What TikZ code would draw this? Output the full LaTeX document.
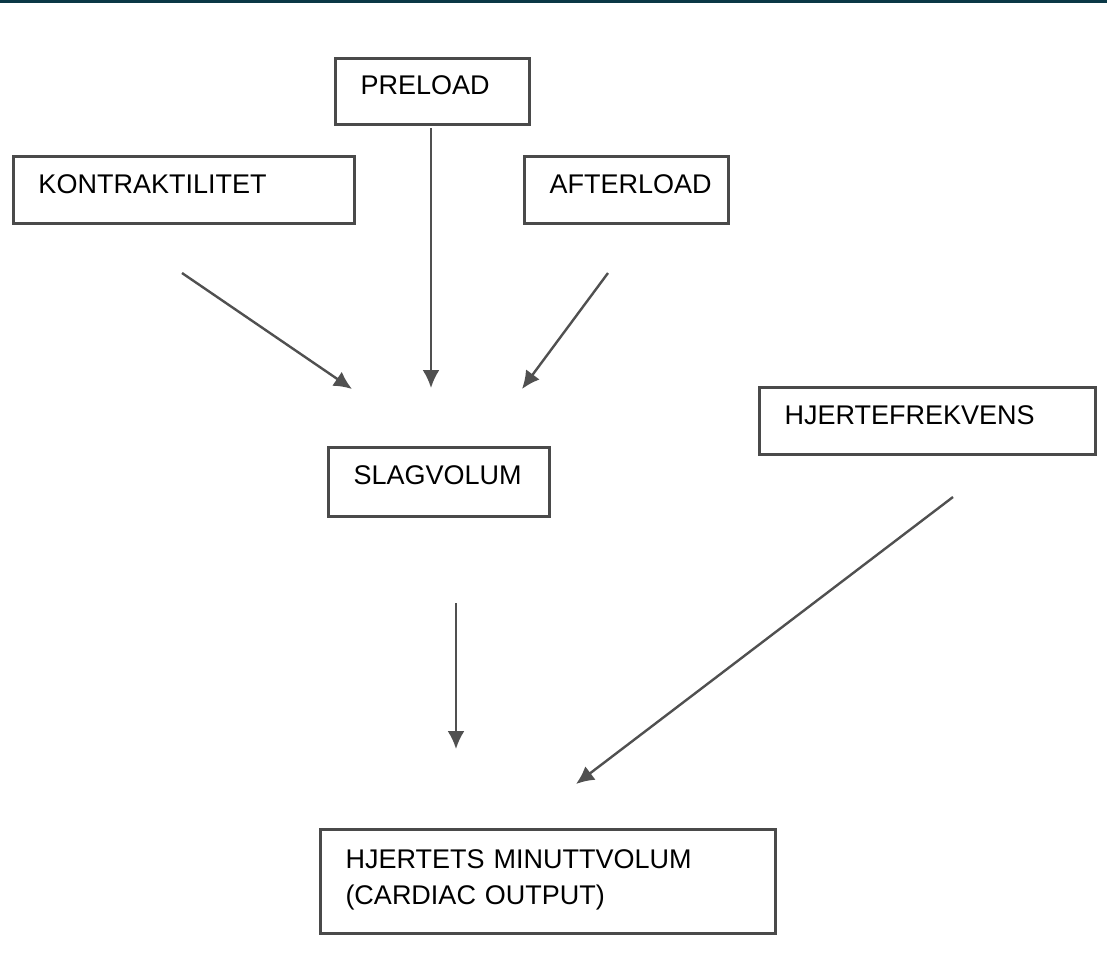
\documentclass[tikz,border=0pt]{standalone}
\usepackage{fontspec}
\setmainfont{Liberation Sans}
\usepackage{tikz}
\usetikzlibrary{arrows.meta,calc,positioning}
\definecolor{topbar}{HTML}{0A3846}
\definecolor{boxline}{HTML}{4A4A4A}
\definecolor{arrline}{HTML}{505050}
\tikzstyle{box}=[draw=boxline,line width=1.5pt,anchor=north west,inner xsep=12.5pt,inner ysep=0pt,align=left,text height=18.5pt,text depth=15pt,font=\fontsize{13.5}{18}\selectfont]
\tikzstyle{arr}=[draw=arrline,line width=1.2pt]

\begin{document}
\begin{tikzpicture}[
            x=0.5pt,y=-0.5pt,
            >={Latex[length=9pt,width=8.5pt]}
        ]
        \useasboundingbox (0,0) rectangle (1107,960);
        \fill[topbar] (0,0) rectangle (1107,3);
        % boxes
        \node [box,text width=72pt,text height=18pt] (pre) at (334,57) {PRELOAD};
        \node [box,text width=145.5pt] (kon) at (12,155) {KONTRAKTILITET};
        \node [box,text width=77pt] (aft) at (523,155) {AFTERLOAD};
        \node [box,text width=85.5pt,text depth=16pt] (sv) at (327,446) {SLAGVOLUM};
        \node [box,text width=143pt] (hf) at (758,386) {HJERTEFREKVENS};
        \node [box,text width=202.5pt,text height=19.5pt,text depth=32.5pt] (co) at (319,828) {HJERTETS MINUTTVOLUM\\(CARDIAC OUTPUT)};
        % arrow ends
        \coordinate (konS) at (182,273);
        \coordinate (konE) at (352,389);
        \coordinate (preS) at (431,128);
        \coordinate (preE) at (431,388);
        \coordinate (aftS) at (608,273);
        \coordinate (aftE) at (522,389);
        \coordinate (svS) at (456,603);
        \coordinate (svE) at (456,749);
        \coordinate (hfS) at (953,497);
        \coordinate (hfE) at (576,784);
        \draw[arr,->] (konS) -- (konE);
        \draw[arr,->] (preS) -- (preE);
        \draw[arr,->] (aftS) -- (aftE);
        \draw[arr,->] (svS) -- (svE);
        \draw[arr,->] (hfS) -- (hfE);
    \end{tikzpicture}
\end{document}
